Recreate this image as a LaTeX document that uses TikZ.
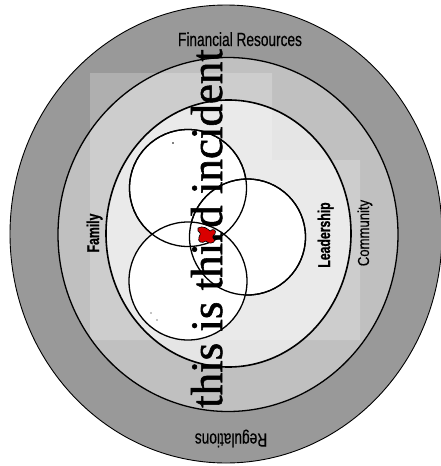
\documentclass[tikz,border=0pt]{standalone}
\usepackage{fontspec}
\setmainfont{Liberation Serif}
\newfontfamily\bigfont[FakeBold=1.2]{Liberation Serif}
\newfontfamily\labA[FakeStretch=0.72,FakeBold=0.4]{Liberation Sans}
\newfontfamily\labC[FakeStretch=0.82,FakeBold=0.3]{Liberation Sans}
\newfontfamily\labB[FakeStretch=0.72,FakeBold=1]{Liberation Sans Bold}
\definecolor{ringA}{HTML}{999999}
\definecolor{ringB}{HTML}{C0C0C0}
\definecolor{ringC}{HTML}{E5E5E5}
\tikzset{
  ringline/.style={draw=black},
  smallc/.style={draw=black, line width=1.3pt, fill=white, circle, inner sep=0pt},
  thinlab/.style={inner sep=0pt, font=\labA\fontsize{19}{19}\selectfont},
  commlab/.style={inner sep=0pt, font=\labC\fontsize{16}{16}\selectfont},
  boldlab/.style={inner sep=0pt, font=\labB\fontsize{17}{17}\selectfont},
  bigtext/.style={inner sep=0pt, font=\bigfont\fontsize{45}{45}\selectfont}
}
\begin{document}
\begin{tikzpicture}[x=1pt,y=-1pt]
\useasboundingbox (0,0) rectangle (441,466);
% fills
\fill[ringA] (226,234) ellipse [x radius=216, y radius=229];
\fill[ringB] (228,234.5) ellipse [x radius=170, y radius=177];
\fill[ringC] (228.5,233.5) ellipse [x radius=122.5, y radius=133.5];
% light overlay
\fill[white, opacity=0.22] (90,73) -- (272,73) -- (272,160) -- (360,160) -- (360,340) -- (90,340) -- cycle;
% outlines
\draw[ringline, line width=0.9pt] (226,234) ellipse [x radius=216, y radius=229];
\draw[ringline, line width=1.3pt] (228,234.5) ellipse [x radius=170, y radius=177];
\draw[ringline, line width=1.6pt] (228.5,233.5) ellipse [x radius=122.5, y radius=133.5];
% small circles
\node[smallc, minimum size=117pt] (ctop) at (188,188) {};
\node[smallc, minimum size=116pt] (cright) at (247.5,237) {};
\node[smallc, minimum size=118pt] (cbot) at (188,281) {};
\draw[line width=1.3pt] (ctop) circle [radius=58.5];
\draw[line width=1.3pt] (cright) circle [radius=58];
% tiny dots
\fill (173,143) circle [radius=0.8];
\fill (151,313) circle [radius=0.6];
\fill (157,320) circle [radius=0.6];
% labels
\node[thinlab, anchor=base] (fin) at (240,46) {Financial Resources};
\node[thinlab, anchor=base, rotate=180] (reg) at (231,433.5) {Regulations};
\node[commlab, anchor=base, rotate=90] (com) at (369,233) {Community};
\node[boldlab, anchor=base, rotate=90] (lead) at (330,235) {Leadership};
\node[boldlab, anchor=base, rotate=90] (fam) at (99,233) {Family};
% big text
\node[bigtext, anchor=base, rotate=90] (big) at (222,228.5) {this is third incident};
% red mark
\filldraw[fill=red!85!black, draw=black, line width=0.6pt]
  (198,228) .. controls (203,225) and (208,229) .. (210,231)
  .. controls (213,228) and (217,230) .. (215,234)
  .. controls (212,236) and (212,238) .. (215,240)
  .. controls (214,244) and (208,244) .. (206,241)
  .. controls (202,244) and (197,242) .. (199,237)
  .. controls (201,235) and (201,233) .. (198,231) -- cycle;
\end{tikzpicture}
\end{document}
